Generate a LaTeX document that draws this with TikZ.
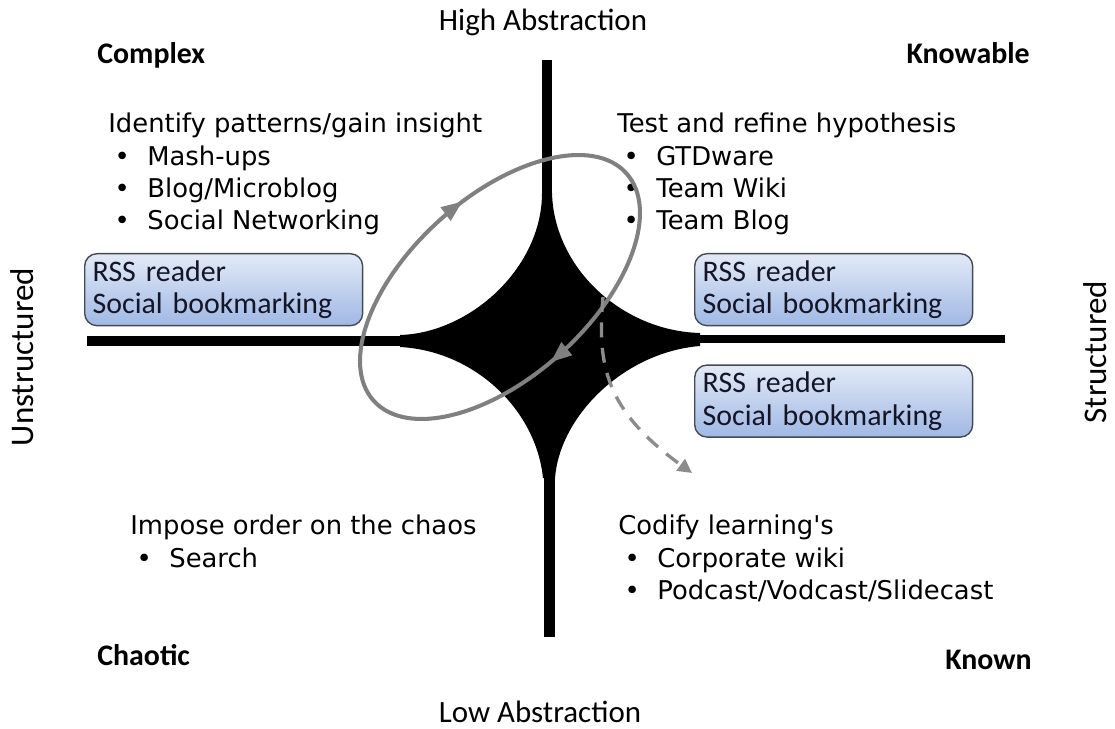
\documentclass[tikz,border=0pt]{standalone}
\usepackage{fontspec}
\setmainfont{Carlito}
\newfontfamily\handfont{DejaVu Sans}
\usepackage{tikz}
\usetikzlibrary{arrows.meta,positioning,decorations.markings}
\definecolor{ringgray}{RGB}{128,128,128}
\definecolor{dashgray}{RGB}{140,140,140}
\definecolor{boxtop}{RGB}{226,234,247}
\definecolor{boxbot}{RGB}{160,184,228}
\definecolor{boxline}{RGB}{70,74,86}
\definecolor{boxtext}{RGB}{20,22,40}
\newcommand{\itm}[1]{\hspace*{3.5pt}\makebox[18.7pt][l]{\textbullet}#1}

\begin{document}
\begin{tikzpicture}[x=0.02cm, y=-0.02cm]
    \tikzstyle{lbl}=[inner sep=0pt, font=\fontsize{17.6}{20}\selectfont]
    \tikzstyle{quad}=[inner sep=0pt, font=\fontsize{17}{20}\selectfont\bfseries]
    \tikzstyle{side}=[inner sep=0pt, rotate=90, font=\fontsize{18.8}{22}\selectfont]
    \tikzstyle{hand}=[inner sep=0pt, anchor=north west, align=left, font=\handfont\fontsize{14.7}{18.4}\selectfont]
    \tikzstyle{rbox}=[draw=boxline, line width=0.8pt, rounded corners=7pt, top color=boxtop, bottom color=boxbot, minimum width=5.56cm, minimum height=1.44cm, text width=5.24cm, inner xsep=0.16cm, inner ysep=0pt, align=left, text=boxtext, font=\fontsize{17}{18.7}\selectfont]
    \tikzstyle{ring}=[draw=ringgray, line width=2.3pt]
    \useasboundingbox (0,0) rectangle (1115,729);

    % axes and the star in the middle
    \coordinate (top) at (547,60);
    \coordinate (bot) at (549,637);
    \coordinate (lft) at (87,341);
    \coordinate (rgt) at (1005,339);
    \draw[line width=0.2cm] (top) -- (547,200);
    \draw[line width=0.22cm] (bot) -- (549,465);
    \draw[line width=0.22cm] (lft) -- (410,341);
    \draw[line width=0.17cm] (rgt) -- (690,339);
    \fill (542,193) .. controls (542,268) and (470,333) .. (400,335) -- (400,347)
        .. controls (475,351) and (536,410) .. (543,478) -- (555,478)
        .. controls (560,415) and (625,352) .. (700,346) -- (700,333)
        .. controls (622,331) and (554,268) .. (552,193) -- cycle;

    % labels
    \node[lbl, anchor=base] (high) at (543,31) {High Abstraction};
    \node[lbl, anchor=base] (low) at (540,722) {Low Abstraction};
    \node[quad, anchor=base west] (complex) at (97,64) {Complex};
    \node[quad, anchor=base east] (knowable) at (1030,64) {Knowable};
    \node[quad, anchor=base west] (chaotic) at (97,665) {Chaotic};
    \node[quad, anchor=base east] (known) at (1032,669) {Known};
    \node[side] (unstr) at (22,357) {Unstructured};
    \node[side] (str) at (1095,352) {Structured};

    % quadrant notes
    \node[hand] (ident) at (108,113) {Identify patterns/gain insight\\ \itm{Mash-ups}\\ \itm{Blog/Microblog}\\ \itm{Social Networking}};
    \node[hand] (test) at (617,113) {Test and refine hypothesis\\ \itm{GTDware}\\ \itm{Team Wiki}\\ \itm{Team Blog}};
    \node[hand] (impose) at (130,515) {Impose order on the chaos\\ \itm{Search}};
    \node[hand] (codify) at (618,515) {Codify learning's\\ \itm{Corporate wiki}\\ \itm{Podcast/Vodcast/Slidecast}};

    % tool boxes
    \node[rbox, anchor=north west] (rssl) at (84,253) {RSS reader\\Social bookmarking};
    \node[rbox, anchor=north west] (rssr) at (694,253) {RSS reader\\Social bookmarking};
    \node[rbox, below=0.76cm of rssr] (rssd) {RSS reader\\Social bookmarking};

    % learning loop
    \coordinate (loopc) at (500,287);
    \draw[ring, rotate around={42:(loopc)}, postaction={decorate},
        decoration={markings,
            mark=at position 0.265 with {\arrow{Triangle[length=0.42cm,width=0.32cm]}},
            mark=at position 0.785 with {\arrow{Triangle[length=0.42cm,width=0.32cm]}}}]
        (loopc) ellipse [x radius=170, y radius=90];
    \coordinate (dstart) at (603,297);
    \coordinate (dend) at (692,473);
    \draw[draw=dashgray, line width=1.9pt, dash pattern=on 8.5pt off 6pt, -{Triangle[length=8pt,width=8pt]}]
        (dstart) .. controls (597,365) and (605,410) .. (dend);
\end{tikzpicture}
\end{document}
